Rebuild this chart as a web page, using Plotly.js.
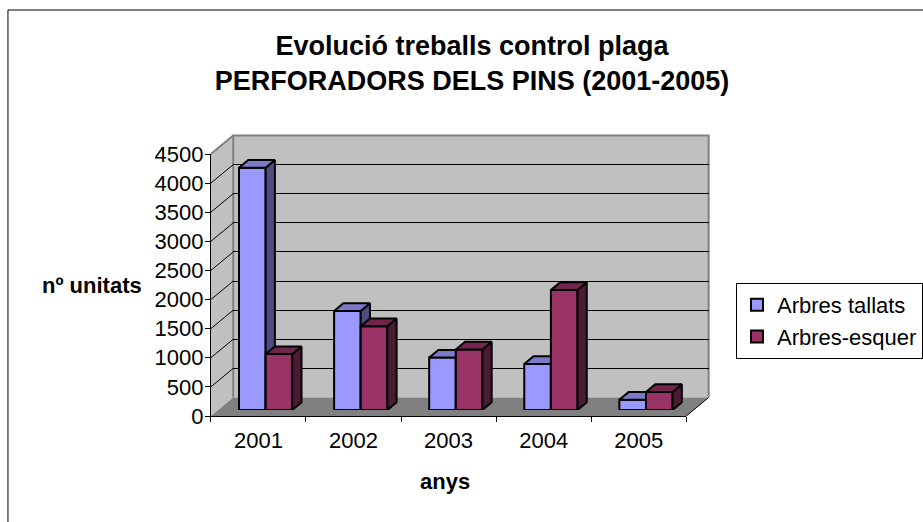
<!DOCTYPE html>
<html>
<head>
<meta charset="utf-8">
<script src="https://cdn.plot.ly/plotly-3.0.1.min.js"></script>
<style>
html,body{margin:0;padding:0;background:#fff;}
#chart{width:923px;height:522px;}
</style>
</head>
<body>
<div id="chart"></div>
<script>
// ---- data ----
const years = ['2001', '2002', '2003', '2004', '2005'];
const arbresTallats = [4160, 1700, 900, 790, 175];
const arbresEsquer = [960, 1440, 1040, 2060, 310];
const seriesNames = ['Arbres tallats', 'Arbres-esquer'];
const yMax = 4500;
const yStep = 500;

// ---- geometry (pixels) ----
const W = 923, H = 522;
const FRONT = {x0: 212, x1: 690, y0: 416, y1: 154}; // front plane (axes)
const DEPTH = {dx: 22.5, dy: -18.5};                 // full depth offset
const BAR_PLANE = 0.324;                              // bar front face position
const BAR_W = 0.28;
const pxPerCat = (FRONT.x1 - FRONT.x0) / years.length;
const pxPerVal = (FRONT.y0 - FRONT.y1) / yMax;
const BAR_DX = 9.3 / pxPerCat;   // bar depth in category units
const BAR_DY = 7.7 / pxPerVal;   // bar depth in value units

const px = x => x / W;
const py = y => 1 - y / H;
function dom(f) {
  return {
    x: [px(FRONT.x0 + DEPTH.dx * f), px(FRONT.x1 + DEPTH.dx * f)],
    y: [py(FRONT.y0 + DEPTH.dy * f), py(FRONT.y1 + DEPTH.dy * f)]
  };
}
const dFront = dom(0), dBack = dom(1), dBar = dom(BAR_PLANE);
const idx = years.map((_, i) => i);

const colors = {
  blue: {front: '#9999FF', side: '#4D4D80', top: '#7A7AC8'},
  red: {front: '#993366', side: '#4D1A33', top: '#73264D'}
};

function prism(values, offset, c, xa, ya, name) {
  const sx = [], sy = [], tx = [], ty = [];
  values.forEach((v, i) => {
    const L = i + offset, R = i + offset + BAR_W;
    sx.push(R, R + BAR_DX, R + BAR_DX, R, R, null);
    sy.push(0, BAR_DY, v + BAR_DY, v, 0, null);
    tx.push(L, L + BAR_DX, R + BAR_DX, R, L, null);
    ty.push(v, v + BAR_DY, v + BAR_DY, v, v, null);
  });
  return [
    {type: 'bar', x: idx, y: values, width: BAR_W, offset: offset, name: name,
     xaxis: xa, yaxis: ya, marker: {color: c.front, line: {color: '#000', width: 2}},
     hoverinfo: 'y'},
    {type: 'scatter', x: sx, y: sy, mode: 'lines', fill: 'toself', fillcolor: c.side,
     line: {color: '#000', width: 2}, xaxis: xa, yaxis: ya, showlegend: false, hoverinfo: 'skip'},
    {type: 'scatter', x: tx, y: ty, mode: 'lines', fill: 'toself', fillcolor: c.top,
     line: {color: '#000', width: 2}, xaxis: xa, yaxis: ya, showlegend: false, hoverinfo: 'skip'}
  ];
}

const traces = [
  {type: 'scatter', x: years, y: arbresTallats, mode: 'markers', marker: {opacity: 0},
   xaxis: 'x', yaxis: 'y', showlegend: false, hoverinfo: 'skip'},
  {type: 'scatter', x: idx, y: arbresTallats, mode: 'markers', marker: {opacity: 0},
   xaxis: 'x2', yaxis: 'y2', showlegend: false, hoverinfo: 'skip'}
].concat(
  prism(arbresTallats, -BAR_W, colors.blue, 'x3', 'y3', seriesNames[0]),
  prism(arbresEsquer, 0, colors.red, 'x4', 'y4', seriesNames[1])
);

// ---- walls ----
const yTickVals = [];
for (let v = 0; v <= yMax; v += yStep) yTickVals.push(v);
const fy = v => FRONT.y0 - v * pxPerVal;
const B = {x0: FRONT.x0 + DEPTH.dx, x1: FRONT.x1 + DEPTH.dx,
           y0: FRONT.y0 + DEPTH.dy, y1: FRONT.y1 + DEPTH.dy};
const P = (x, y) => px(x) + ',' + py(y);
const shapes = [
  // outer border
  {type: 'rect', xref: 'paper', yref: 'paper', x0: px(8), x1: 1.05, y0: -0.05, y1: py(10),
   line: {color: '#000', width: 1}, fillcolor: 'rgba(0,0,0,0)', layer: 'below'},
  // back wall
  {type: 'rect', xref: 'paper', yref: 'paper', x0: px(B.x0), x1: px(B.x1), y0: py(B.y0), y1: py(B.y1),
   fillcolor: '#C0C0C0', line: {width: 0}, layer: 'below'},
  // left wall
  {type: 'path', xref: 'paper', yref: 'paper', layer: 'below', fillcolor: '#C0C0C0', line: {width: 0},
   path: 'M' + P(FRONT.x0, FRONT.y0) + 'L' + P(FRONT.x0, FRONT.y1) + 'L' + P(B.x0, B.y1) + 'L' + P(B.x0, B.y0) + 'Z'},
  // floor
  {type: 'path', xref: 'paper', yref: 'paper', layer: 'below', fillcolor: '#808080', line: {width: 0},
   path: 'M' + P(FRONT.x0, FRONT.y0) + 'L' + P(FRONT.x1, FRONT.y0) + 'L' + P(B.x1, B.y0) + 'L' + P(B.x0, B.y0) + 'Z'},
  // floor right edge
  {type: 'line', xref: 'paper', yref: 'paper', layer: 'below', x0: px(FRONT.x1), y0: py(FRONT.y0),
   x1: px(B.x1), y1: py(B.y0), line: {color: '#000', width: 1}},
  // wall borders (gray)
  {type: 'path', xref: 'paper', yref: 'paper', layer: 'below', line: {color: '#808080', width: 2},
   path: 'M' + P(B.x0, B.y0) + 'L' + P(B.x0, B.y1) + 'L' + P(B.x1, B.y1) + 'L' + P(B.x1, B.y0)},
  {type: 'line', xref: 'paper', yref: 'paper', layer: 'below', x0: px(FRONT.x0), y0: py(FRONT.y1),
   x1: px(B.x0), y1: py(B.y1), line: {color: '#808080', width: 2}}
];
yTickVals.filter(v => v > 0 && v < yMax).forEach(v => {
  shapes.push({type: 'line', xref: 'paper', yref: 'paper', layer: 'below',
    x0: px(FRONT.x0), y0: py(fy(v)), x1: px(B.x0), y1: py(fy(v) + DEPTH.dy),
    line: {color: '#000', width: 1}});
});

const font = 'Liberation Sans, Arial, sans-serif';
const hidden = {showgrid: false, zeroline: false, showticklabels: false, ticks: '', showline: false, fixedrange: true};

const layout = {
  width: W, height: H,
  margin: {l: 0, r: 0, t: 0, b: 0},
  paper_bgcolor: '#fff', plot_bgcolor: 'rgba(0,0,0,0)',
  font: {family: font, size: 22, color: '#000'},
  title: {text: '<b>Evolució treballs control plaga<br>PERFORADORS DELS PINS (2001-2005)</b>',
          font: {family: font, size: 27, color: '#000'}, x: px(472), xanchor: 'center',
          y: 1 - 55 / H, yanchor: 'middle', yref: 'container'},
  showlegend: true,
  legend: {x: px(740), y: py(283), xanchor: 'left', yanchor: 'top', bgcolor: '#fff',
           bordercolor: '#000', borderwidth: 1, font: {family: font, size: 22, color: '#000'}},
  xaxis: {domain: dFront.x, anchor: 'y', type: 'category', categoryarray: years, range: [-0.5, 4.5],
          showline: true, linecolor: '#000', linewidth: 1, ticks: 'outside', ticklen: 5,
          tickcolor: '#000', tickson: 'boundaries', showgrid: false, zeroline: false,
          ticklabelstandoff: 5, fixedrange: true},
  yaxis: {domain: dFront.y, anchor: 'x', range: [0, yMax], tickvals: yTickVals,
          showline: true, linecolor: '#000', linewidth: 1, ticks: 'outside', ticklen: 5,
          tickcolor: '#000', showgrid: false, zeroline: false, ticklabelstandoff: -3, fixedrange: true},
  xaxis2: Object.assign({domain: dBack.x, anchor: 'y2', range: [-0.5, 4.5]}, hidden),
  yaxis2: Object.assign({}, hidden, {domain: dBack.y, anchor: 'x2', range: [0, yMax], showgrid: true,
          gridcolor: '#000', gridwidth: 1, tickmode: 'array',
          tickvals: yTickVals.filter(v => v > 0 && v < yMax)}),
  xaxis3: Object.assign({domain: dBar.x, anchor: 'y3', range: [-0.5, 4.5]}, hidden),
  yaxis3: Object.assign({domain: dBar.y, anchor: 'x3', range: [0, yMax]}, hidden),
  xaxis4: Object.assign({overlaying: 'x3', anchor: 'y4', range: [-0.5, 4.5]}, hidden),
  yaxis4: Object.assign({overlaying: 'y3', anchor: 'x4', range: [0, yMax]}, hidden),
  shapes: shapes,
  annotations: [
    {text: '<b>nº unitats</b>', xref: 'paper', yref: 'paper', x: px(92), y: py(285),
     xanchor: 'center', yanchor: 'middle', showarrow: false, font: {family: font, size: 22}},
    {text: '<b>anys</b>', xref: 'paper', yref: 'paper', x: px(447), y: py(481),
     xanchor: 'center', yanchor: 'middle', showarrow: false, font: {family: font, size: 22}}
  ]
};

Plotly.newPlot('chart', traces, layout, {displayModeBar: false, staticPlot: true});
</script>
</body>
</html>
